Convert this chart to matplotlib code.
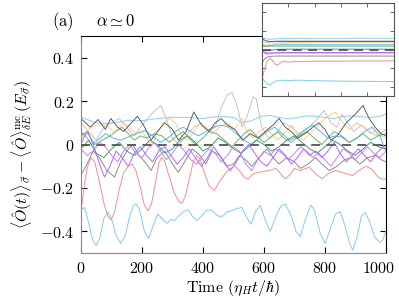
import matplotlib
matplotlib.use("Agg")
import matplotlib.pyplot as plt
import matplotlib.transforms as mtransforms

plt.rcParams["mathtext.fontset"] = "cm"
plt.rcParams["font.family"] = "serif"

# main panel: time axis and curves
t_blue = [0, 12, 25, 38, 50, 62, 75, 88, 100, 115, 130, 145, 160, 172, 181, 192, 208, 222, 235, 252,
          268, 283, 295, 307, 320, 335, 351, 365, 381, 395, 410, 427, 445, 460, 480, 495, 512, 528, 545, 558,
          572, 588, 605, 621, 640, 655, 670, 690, 705, 719, 735, 754, 765, 785, 801, 815, 835, 850, 865, 880,
          891, 905, 920, 932, 945, 965, 981, 990, 1000]
v_blue = [-0.30, -0.29, -0.36, -0.44, -0.465, -0.43, -0.34, -0.31, -0.34, -0.42, -0.455, -0.42, -0.33, -0.28,
          -0.274, -0.30, -0.40, -0.433, -0.38, -0.32, -0.345, -0.363, -0.345, -0.35, -0.33, -0.31, -0.30, -0.33,
          -0.35, -0.33, -0.305, -0.30, -0.325, -0.335, -0.31, -0.305, -0.295, -0.29, -0.34, -0.367, -0.31, -0.28,
          -0.35, -0.40, -0.33, -0.285, -0.274, -0.33, -0.40, -0.425, -0.35, -0.28, -0.30, -0.41, -0.456, -0.40,
          -0.32, -0.308, -0.37, -0.45, -0.487, -0.43, -0.33, -0.313, -0.35, -0.43, -0.45, -0.44, -0.40]

t_red = [0, 10, 20, 32, 45, 60, 75, 88, 99, 110, 125, 140, 155, 168, 180, 195, 208, 220, 232, 245,
         255, 264, 275, 290, 305, 320, 331, 342, 355, 368, 380, 392, 405, 420, 438, 450, 461, 475, 490, 505,
         520, 535, 548, 560, 575, 595, 615, 640, 655, 670, 685, 700, 720, 748, 770, 791, 810, 835, 860, 890,
         911, 935, 955, 975, 985, 1000]
v_red = [-0.31, -0.20, -0.11, -0.06, -0.08, -0.17, -0.27, -0.33, -0.348, -0.31, -0.21, -0.13, -0.10, -0.09,
         -0.12, -0.20, -0.28, -0.305, -0.27, -0.17, -0.09, -0.058, -0.08, -0.15, -0.22, -0.26, -0.271, -0.24,
         -0.16, -0.08, -0.05, -0.07, -0.13, -0.19, -0.212, -0.18, -0.158, -0.13, -0.11, -0.10, -0.12, -0.15,
         -0.16, -0.14, -0.13, -0.125, -0.12, -0.11, -0.135, -0.158, -0.14, -0.11, -0.12, -0.105, -0.135, -0.158,
         -0.135, -0.12, -0.13, -0.143, -0.12, -0.10, -0.115, -0.15, -0.158, -0.16]

t_lgray = [0, 25, 50, 75, 100, 125, 150, 175, 200, 225, 245, 262, 280, 300, 320, 345, 370, 395, 420, 440,
           460, 480, 495, 512, 528, 545, 565, 575, 593, 615, 640, 665, 690, 715, 740, 770, 797, 820, 840, 856,
           875, 895, 920, 945, 970, 1000]
v_lgray = [0.10, 0.06, 0.02, 0.08, 0.10, 0.12, 0.08, 0.04, 0.09, 0.13, 0.16, 0.18, 0.12, 0.03, 0.00, 0.04,
           0.08, 0.10, 0.06, 0.08, 0.17, 0.23, 0.24, 0.18, 0.08, 0.13, 0.22, 0.21, 0.08, 0.03, 0.05, 0.10, 0.08,
           0.05, 0.07, 0.11, 0.157, 0.10, 0.08, 0.14, 0.10, 0.06, 0.09, 0.06, 0.04, 0.07]

t_dgray = [0, 30, 56, 80, 98, 120, 140, 165, 185, 205, 230, 250, 275, 300, 320, 345, 370, 395, 420, 440,
           460, 480, 505, 530, 555, 580, 605, 630, 650, 670, 690, 710, 735, 760, 780, 800, 820, 840, 870, 900,
           925, 945, 965, 985, 1000]
v_dgray = [0.12, 0.08, 0.115, 0.07, 0.12, 0.08, 0.06, 0.10, 0.13, 0.09, 0.02, 0.06, 0.10, 0.07, 0.02, 0.06,
           0.15, 0.09, 0.06, 0.10, 0.12, 0.09, 0.07, 0.02, 0.05, 0.03, 0.06, 0.09, 0.12, 0.08, 0.06, 0.03, 0.05,
           0.08, 0.10, 0.07, 0.02, 0.04, 0.10, 0.14, 0.18, 0.12, 0.08, 0.05, 0.04]

t_mgray = [0, 20, 40, 60, 85, 110, 130, 150, 170, 190, 210, 230, 250, 275, 300, 319, 340, 365, 390, 410,
           430, 455, 480, 500, 520, 540, 560, 585, 610, 630, 650, 675, 700, 720, 745, 770, 790, 815, 840, 865,
           890, 915, 940, 965, 985, 1000]
v_mgray = [-0.14, -0.09, -0.03, -0.06, -0.12, -0.15, -0.08, -0.03, 0.00, -0.05, -0.08, -0.12, -0.06, -0.03,
           -0.09, -0.128, -0.08, -0.02, -0.05, -0.09, -0.03, -0.05, -0.10, -0.09, -0.05, -0.07, -0.10, -0.06,
           -0.02, -0.06, -0.09, -0.06, -0.08, -0.11, -0.09, -0.06, -0.09, -0.12, -0.10, -0.07, -0.06, -0.09,
           -0.06, -0.05, -0.07, -0.08]

t_orange = [0, 25, 50, 84, 105, 121, 140, 160, 180, 200, 215, 230, 250, 270, 290, 310, 330, 350, 370, 390,
            410, 430, 455, 480, 500, 515, 528, 545, 565, 585, 605, 625, 645, 665, 692, 710, 730, 750, 775, 800,
            820, 835, 855, 880, 905, 925, 950, 970, 985, 1000]
v_orange = [0.03, 0.07, 0.09, 0.09, 0.06, 0.07, 0.10, 0.08, 0.05, 0.06, 0.03, -0.01, 0.05, 0.10, 0.12, 0.10,
            0.04, 0.02, 0.06, 0.10, 0.08, 0.05, 0.08, 0.10, 0.07, 0.09, 0.12, 0.06, 0.03, 0.06, 0.08, 0.05, 0.02,
            0.05, 0.09, 0.04, 0.02, 0.05, 0.08, 0.12, 0.14, 0.15, 0.11, 0.07, 0.10, 0.08, 0.05, 0.07, 0.04, 0.03]

t_green = [0, 20, 45, 70, 95, 115, 135, 155, 175, 195, 215, 240, 265, 290, 315, 335, 355, 375, 400, 420,
           445, 470, 495, 515, 535, 555, 575, 600, 620, 645, 665, 690, 715, 740, 765, 790, 810, 830, 855, 880,
           905, 925, 950, 975, 1000]
v_green = [0.04, 0.06, 0.00, 0.02, 0.04, 0.06, 0.08, 0.05, 0.02, 0.04, 0.03, 0.05, 0.04, 0.01, 0.04, 0.06,
           0.03, 0.00, 0.03, 0.06, 0.05, 0.02, -0.01, 0.02, 0.05, 0.07, 0.04, 0.01, 0.03, 0.06, 0.03, 0.01, 0.04,
           0.06, 0.03, 0.00, 0.03, 0.06, 0.04, 0.01, 0.03, 0.05, 0.02, 0.04, 0.05]

t_green2 = list(range(0, 1001, 25))
v_green2 = [-0.02, 0.02, -0.04, -0.06, -0.02, 0.01, -0.03, -0.05, -0.02, 0.02, 0.00, -0.04, -0.02, 0.02,
            0.04, 0.01, -0.03, -0.01, 0.03, 0.01, -0.02, -0.04, -0.01, 0.02, 0.00, -0.03, -0.01, 0.02, 0.04,
            0.01, -0.02, -0.04, -0.01, 0.02, 0.00, -0.03, -0.05, -0.02, 0.01, -0.01, -0.02]

t_purple = [0, 12, 23, 40, 61, 77, 95, 115, 135, 155, 175, 195, 215, 235, 255, 275, 295, 315, 335, 355,
            375, 395, 415, 435, 455, 472, 490, 510, 530, 550, 570, 590, 610, 630, 650, 670, 690, 710, 730, 750,
            770, 790, 810, 830, 850, 870, 890, 910, 930, 950, 970, 990, 1000]
v_purple = [0.00, 0.04, 0.057, 0.00, -0.09, -0.15, -0.10, -0.03, -0.06, -0.10, -0.04, -0.01, -0.05, -0.08,
            -0.03, -0.01, -0.05, -0.09, -0.06, -0.02, -0.06, -0.10, -0.06, -0.01, -0.05, -0.09, -0.12, -0.08,
            -0.03, 0.00, -0.04, -0.08, -0.10, -0.06, -0.02, -0.05, -0.09, -0.06, -0.02, -0.05, -0.03, -0.06,
            -0.03, 0.01, -0.04, -0.08, -0.05, -0.02, -0.05, -0.08, -0.04, -0.01, -0.02]

t_purple2 = list(range(0, 1001, 20))
v_purple2 = [-0.02, -0.05, -0.03, 0.01, -0.01, -0.05, -0.08, -0.03, 0.00, -0.04, -0.06, -0.02, 0.01, -0.03,
             -0.07, -0.04, 0.00, -0.03, -0.07, -0.09, -0.05, -0.02, -0.04, -0.08, -0.05, -0.01, -0.03, -0.09,
             -0.12, -0.07, -0.03, -0.05, -0.02, -0.04, -0.07, -0.04, -0.01, -0.03, -0.06, -0.04, -0.07, -0.10,
             -0.06, -0.02, -0.04, -0.07, -0.04, -0.01, -0.04, -0.06, -0.03]

t_btop = [0, 50, 100, 150, 200, 250, 300, 350, 400, 430, 460, 500, 530, 560, 590, 620, 650, 680, 710, 740,
          770, 800, 830, 860, 890, 920, 950, 980, 1000]
v_btop = [0.126, 0.10, 0.097, 0.11, 0.11, 0.12, 0.126, 0.125, 0.12, 0.126, 0.13, 0.125, 0.10, 0.11, 0.13,
          0.134, 0.125, 0.118, 0.125, 0.132, 0.13, 0.125, 0.12, 0.13, 0.132, 0.128, 0.125, 0.13, 0.14]

t_blue2 = [0, 20, 35, 55, 80, 105, 130, 154, 180, 209, 235, 260, 285, 310, 335, 360, 385, 410, 435, 460,
           485, 510, 535, 560, 585, 610, 635, 660, 685, 710, 735, 760, 785, 810, 835, 856, 880, 905, 930, 955,
           980, 1000]
v_blue2 = [0.06, 0.03, 0.00, 0.02, 0.05, 0.03, 0.02, 0.034, 0.05, 0.065, 0.04, 0.01, 0.03, 0.06, 0.08, 0.06,
           0.04, 0.06, 0.08, 0.09, 0.08, 0.05, 0.02, 0.00, 0.03, 0.06, 0.08, 0.05, 0.02, 0.04, 0.07, 0.09, 0.06,
           0.03, 0.04, 0.034, 0.01, 0.03, 0.06, 0.08, 0.04, -0.03]

# inset: long-time values
t_ins = [0, 100, 200, 300, 400, 500, 600, 700, 800, 1000, 1200, 1500, 2000, 3000, 4000, 5000]
ins_blue = [-0.31, -0.34, -0.37, -0.38, -0.36, -0.34, -0.335, -0.33, -0.33, -0.335, -0.33, -0.33, -0.335,
            -0.34, -0.342, -0.345]
ins_red = [-0.31, -0.20, -0.12, -0.095, -0.12, -0.16, -0.165, -0.14, -0.125, -0.135, -0.13, -0.13, -0.125,
           -0.125, -0.123, -0.122]
ins_btop = [0.125, 0.12, 0.115, 0.11, 0.112, 0.115, 0.117, 0.118, 0.118, 0.12, 0.12, 0.12, 0.121, 0.121,
            0.122, 0.122]
ins_dgray = [0.12, 0.10, 0.09, 0.085, 0.085, 0.087, 0.086, 0.085, 0.085, 0.085, 0.086, 0.086, 0.086, 0.086,
             0.086, 0.086]
ins_orange = [0.03, 0.04, 0.05, 0.055, 0.06, 0.065, 0.068, 0.07, 0.072, 0.074, 0.075, 0.076, 0.077, 0.078,
              0.078, 0.078]
ins_lgray = [0.10, 0.08, 0.075, 0.08, 0.085, 0.09, 0.092, 0.095, 0.096, 0.095, 0.094, 0.094, 0.094, 0.094,
             0.094, 0.094]
ins_blue2 = [0.06, 0.04, 0.035, 0.04, 0.045, 0.05, 0.05, 0.052, 0.053, 0.053, 0.052, 0.052, 0.052, 0.052,
             0.052, 0.052]
ins_green = [0.04, 0.035, 0.04, 0.04, 0.038, 0.038, 0.037, 0.037, 0.037, 0.037, 0.037, 0.037, 0.037, 0.037,
             0.037, 0.037]
ins_green2 = [-0.02, -0.01, -0.015, -0.01, -0.005, 0.0, 0.002, 0.003, 0.003, 0.004, 0.004, 0.004, 0.004,
              0.004, 0.004, 0.004]
ins_purple = [0.0, -0.04, -0.05, -0.045, -0.04, -0.035, -0.035, -0.033, -0.033, -0.032, -0.032, -0.032,
              -0.032, -0.032, -0.032, -0.032]
ins_purple2 = [-0.02, -0.03, -0.035, -0.035, -0.035, -0.035, -0.036, -0.037, -0.037, -0.037, -0.037, -0.037,
               -0.037, -0.037, -0.037, -0.037]
ins_mgray = [-0.14, -0.10, -0.08, -0.075, -0.072, -0.07, -0.07, -0.07, -0.07, -0.07, -0.07, -0.07, -0.07,
             -0.07, -0.07, -0.07]

xticks = [0, 200, 400, 600, 800, 1000]
xtick_labels = [r"$0$", r"$200$", r"$400$", r"$600$", r"$800$", r"$1000$"]
yticks = [-0.4, -0.2, 0, 0.2, 0.4]
ytick_labels = [r"$-0.4$", r"$-0.2$", r"$0$", r"$0.2$", r"$0.4$"]

colors = {
    "blue": "#82cbf2", "red": "#f29090", "lgray": "#c4c4c4", "dgray": "#606060",
    "mgray": "#8c8c8c", "orange": "#ffcb8e", "green": "#6cb46c", "green2": "#3f9f7a",
    "purple": "#b266ff", "purple2": "#cc80ee", "btop": "#8ccff2", "blue2": "#5ab8e6",
}

main_series = [
    (t_lgray, v_lgray, "lgray"), (t_orange, v_orange, "orange"), (t_btop, v_btop, "btop"),
    (t_blue2, v_blue2, "blue2"), (t_green, v_green, "green"), (t_green2, v_green2, "green2"),
    (t_dgray, v_dgray, "dgray"), (t_mgray, v_mgray, "mgray"), (t_purple2, v_purple2, "purple2"),
    (t_purple, v_purple, "purple"), (t_red, v_red, "red"), (t_blue, v_blue, "blue"),
]
inset_series = [
    (ins_lgray, "lgray"), (ins_orange, "orange"), (ins_btop, "btop"), (ins_blue2, "blue2"),
    (ins_green, "green"), (ins_green2, "green2"), (ins_dgray, "dgray"), (ins_mgray, "mgray"),
    (ins_purple2, "purple2"), (ins_purple, "purple"), (ins_red, "red"), (ins_blue, "blue"),
]

fig = plt.figure(figsize=(3.99, 3.03), dpi=100)
ax = fig.add_axes([0.203, 0.165, 0.764, 0.716])

for t, v, c in main_series:
    ax.plot(t, v, color=colors[c], lw=0.7)
ax.axhline(0, color="#555555", lw=1.3, ls=(0, (5, 3.5)), zorder=5)

ax.set_xlim(0, 1000)
ax.set_ylim(-0.5, 0.5)
ax.set_xticks(xticks)
ax.set_xticklabels(xtick_labels)
ax.set_yticks(yticks)
ax.set_yticklabels(ytick_labels)
ax.tick_params(direction="in", top=True, right=True, labelsize=11.5, length=4, width=0.8, pad=5)
for side in ["left", "bottom"]:
    ax.spines[side].set_color("#888888")
for side in ["top", "right"]:
    ax.spines[side].set_color("black")
ax.set_xlabel(r"$\mathrm{Time}\ (\eta_H t/\hbar)$", fontsize=11.5, labelpad=1)

# keep the last x label inside the figure, as in the reference
last = ax.get_xticklabels()[-1]
last.set_transform(last.get_transform() + mtransforms.ScaledTranslation(-5 / 72, 0, fig.dpi_scale_trans))

fig.text(0.055, 0.49,
         r"$\langle\hat{O}(t)\rangle_{\vec{\sigma}} - \langle\hat{O}\rangle^{\mathrm{mc}}_{\delta E}\,(E_{\vec{\sigma}})$",
         rotation=90, ha="center", va="center", fontsize=11.5)
fig.text(0.157, 0.929, r"$\mathrm{(a)}$", ha="center", va="center", fontsize=12)
fig.text(0.29, 0.929, r"$\alpha \simeq 0$", ha="center", va="center", fontsize=12)

# inset
ins = fig.add_axes([0.657, 0.683, 0.330, 0.307])
ins.set_facecolor("white")
for v, c in inset_series:
    ins.plot(t_ins, v, color=colors[c], lw=0.7)
ins.axhline(0, color="#555555", lw=1.3, ls=(0, (5, 3.5)), zorder=5)
ins.set_xlim(0, 5000)
ins.set_ylim(-0.5, 0.5)
ins.set_xticks([1000, 2000, 3000, 4000])
ins.set_yticks(yticks)
ins.tick_params(direction="in", top=True, right=True, labelleft=False, labelbottom=False,
                length=3, width=0.6, color="#555555")
for s in ins.spines.values():
    s.set_color("#555555")
    s.set_linewidth(0.8)

fig.savefig("out.png", dpi=100)
